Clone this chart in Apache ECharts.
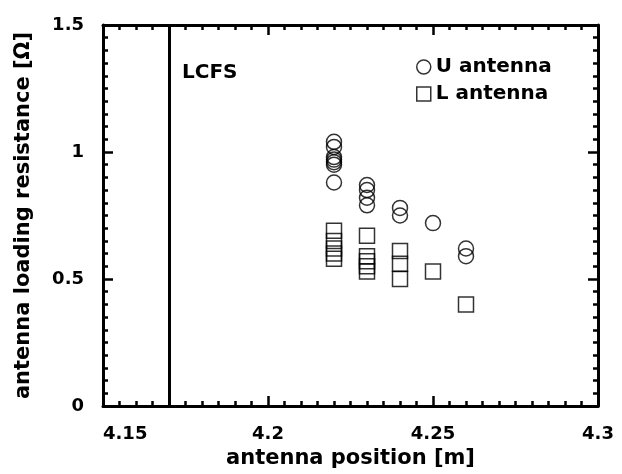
<!DOCTYPE html>
<html>
<head>
<meta charset="utf-8">
<script src="https://cdn.jsdelivr.net/npm/echarts@6/dist/echarts.min.js"></script>
<style>
html,body{margin:0;padding:0;background:#fff;}
#chart{width:622px;height:474px;}
</style>
</head>
<body>
<div id="chart"></div>
<script>
// Data
const uPositions = [4.22,4.22,4.22,4.22,4.22,4.22,4.22,4.23,4.23,4.23,4.23,4.24,4.24,4.25,4.26,4.26];
const uResistance = [1.04,1.02,0.98,0.97,0.96,0.95,0.88,0.87,0.85,0.82,0.79,0.78,0.75,0.72,0.62,0.59];
const lPositions = [4.22,4.22,4.22,4.22,4.22,4.23,4.23,4.23,4.23,4.23,4.24,4.24,4.24,4.25,4.26];
const lResistance = [0.69,0.65,0.62,0.60,0.58,0.67,0.59,0.57,0.55,0.53,0.61,0.56,0.50,0.53,0.40];
const lcfsPosition = 4.17;
const seriesNames = ['U antenna', 'L antenna'];
const xAxisTitle = 'antenna position [m]';
const yAxisTitle = 'antenna loading resistance [Ω]';
const lcfsLabel = 'LCFS';

const FONT = 'DejaVu Sans';
const pair = (xs, ys) => xs.map((x, i) => [x, ys[i]]);

const lineStyle = {color: '#000', width: 3};
function makeAxis(extra) {
  return Object.assign({
    type: 'value',
    axisLine: {show: true, onZero: false, lineStyle: lineStyle},
    axisTick: {show: true, inside: true, length: 10, lineStyle: {color: '#000', width: 2.5}},
    minorTick: {show: true, splitNumber: 10, length: 5, lineStyle: {color: '#000', width: 2.5}},
    splitLine: {show: false},
    minorSplitLine: {show: false}
  }, extra);
}
const labelStyle = {color: '#000', fontFamily: FONT, fontWeight: 'bold', fontSize: 18};

const chart = echarts.init(document.getElementById('chart'), null, {renderer: 'canvas'});
chart.setOption({
  backgroundColor: '#fff',
  animation: false,
  grid: {left: 103, right: 24, top: 25, bottom: 65, containLabel: false},
  xAxis: [
    makeAxis({
      position: 'bottom', min: 4.15, max: 4.3, interval: 0.05,
      axisLabel: Object.assign({margin: 19, alignMinLabel: 'left'}, labelStyle),
      name: xAxisTitle, nameLocation: 'middle', nameGap: 42,
      nameTextStyle: {color: '#000', fontFamily: FONT, fontWeight: 'bold', fontSize: 21}
    }),
    makeAxis({position: 'top', min: 4.15, max: 4.3, interval: 0.05, axisLabel: {show: false}})
  ],
  yAxis: [
    makeAxis({
      position: 'left', min: 0, max: 1.5, interval: 0.5,
      axisLabel: Object.assign({margin: 19}, labelStyle),
      name: yAxisTitle, nameLocation: 'middle', nameGap: 69, nameRotate: 90,
      nameTextStyle: {color: '#000', fontFamily: FONT, fontWeight: 'bold', fontSize: 21}
    }),
    makeAxis({position: 'right', min: 0, max: 1.5, interval: 0.5, axisLabel: {show: false}})
  ],
  legend: {
    orient: 'vertical', left: 411, top: 52, itemWidth: 14, itemHeight: 14, itemGap: 7,
    textStyle: {color: '#000', fontFamily: FONT, fontWeight: 'bold', fontSize: 20},
    data: [
      {name: seriesNames[0], icon: 'circle'},
      {name: seriesNames[1], icon: 'rect'}
    ],
    itemStyle: {color: 'rgba(0,0,0,0)', borderColor: '#000', borderWidth: 1.5}
  },
  graphic: [{
    type: 'text', left: 182, top: 63,
    style: {text: lcfsLabel, fill: '#000', font: 'bold 20px "DejaVu Sans"'}
  }],
  series: [
    {
      name: seriesNames[0], type: 'scatter', xAxisIndex: 0, yAxisIndex: 0,
      symbol: 'circle', symbolSize: 15,
      itemStyle: {color: 'rgba(0,0,0,0)', borderColor: '#000', borderWidth: 1.5},
      data: pair(uPositions, uResistance),
      markLine: {
        silent: true, symbol: ['none', 'none'], label: {show: false},
        lineStyle: {color: '#000', width: 3, type: 'solid'},
        data: [{xAxis: lcfsPosition}]
      }
    },
    {
      name: seriesNames[1], type: 'scatter', xAxisIndex: 0, yAxisIndex: 0,
      symbol: 'rect', symbolSize: 15,
      itemStyle: {color: 'rgba(0,0,0,0)', borderColor: '#000', borderWidth: 1.5},
      data: pair(lPositions, lResistance)
    }
  ]
});
</script>
</body>
</html>
